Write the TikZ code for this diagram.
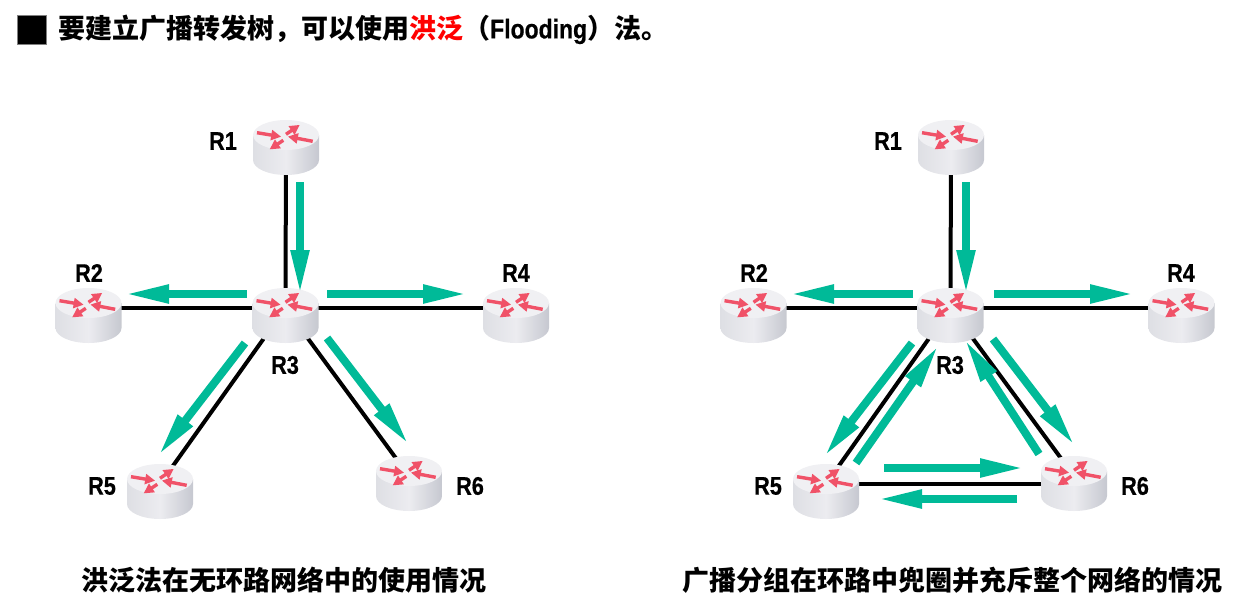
\documentclass[tikz,border=0pt]{standalone}
\usepackage{fontspec}
\setmainfont{Liberation Sans}
\newfontfamily\cjk{Noto Sans CJK SC}
\newfontfamily\narrowfont[FakeStretch=0.85, BoldFeatures={FakeBold=0.6}]{Liberation Sans}
\usetikzlibrary{arrows.meta}
\definecolor{flowgreen}{RGB}{0,186,152}
\definecolor{routerred}{RGB}{240,82,104}
\definecolor{bodylight}{RGB}{236,236,240}
\definecolor{bodyside}{RGB}{222,223,228}
\definecolor{bodydark}{RGB}{198,200,208}
\definecolor{topface}{RGB}{240,240,243}

\newcommand{\flowarrow}[3]{
	\coordinate (#1s) at #2;
	\coordinate (#1e) at #3;
	\draw[flowline] (#1s) -- (#1e);
}

\tikzset{
	routernode/.style={inner sep=0pt, minimum size=0pt},
	link/.style={line width=4pt, black},
	flowline/.style={line width=8pt, flowgreen, shorten >=-5pt, -{Triangle[length=45pt, width=17pt]}},
	routerarrow/.style={line width=3.4pt, routerred, shorten >=-2.5pt, -{Triangle[length=10pt, width=10pt]}},
	routerlabel/.style={font=\narrowfont\bfseries\fontsize{25.5}{30}\selectfont, inner sep=0pt},
	caption/.style={font=\cjk\bfseries\fontsize{27}{32}\selectfont, inner sep=0pt},
	router/.pic={
		% body, then the top face
		\shade[left color=bodyside, right color=bodydark, middle color=bodylight, shift={(0,-5)}]
		(-33,0) -- (-33,25) .. controls (-33,33.3) and (-18.2,40) .. (0,40)
		.. controls (18.2,40) and (33,33.3) .. (33,25) -- (33,0) -- cycle;
		\fill[topface, shift={(0,-5)}] (0,0) ellipse [x radius=33, y radius=15];
		\draw[routerarrow] (-29,-7.3) -- (-7.3,-3.7);
		\draw[routerarrow] (0,-5.7) -- (11.7,-13.7);
		\draw[routerarrow] (26.7,1.3) -- (4.3,-3);
		\draw[routerarrow] (-2.7,0.3) -- (-14.3,8);
	}
}

\begin{document}
\begin{tikzpicture}[x=1pt, y=-1pt]
	\useasboundingbox (0,0) rectangle (1248,611);

	% heading
	\node[draw=gray, fill=black, line width=0.8pt, minimum size=29pt, inner sep=0pt] (mark) at (31.5,29.5) {};
	\node[caption, anchor=west] (title) at (58,29.5) {要建立广播转发树，可以使用\textcolor{red}{洪泛}（{\narrowfont\mdseries\bfseries\fontsize{27}{32}\selectfont Flooding}）法。};

	% left network
	\node[routernode] (l1) at (286,140) {};
	\node[routernode] (l2) at (88.5,308) {};
	\node[routernode] (l3) at (285.5,308) {};
	\node[routernode] (l4) at (516,308) {};
	\node[routernode] (l5) at (160,484) {};
	\node[routernode] (l6) at (409,476) {};

	\draw[link] (l1) -- (l3);
	\draw[link] (l2) -- (l3);
	\draw[link] (l3) -- (l4);
	\draw[link] (l3) -- (l5);
	\draw[link] (l3) -- (l6);

	\pic at (l1) {router};
	\pic at (l2) {router};
	\pic at (l3) {router};
	\pic at (l4) {router};
	\pic at (l5) {router};
	\pic at (l6) {router};

	\flowarrow{la}{(300,182)}{(300,290)}
	\flowarrow{lb}{(247,294)}{(129,294)}
	\flowarrow{lc}{(327,294)}{(463,294)}
	\flowarrow{ld}{(245,343)}{(161,452)}
	\flowarrow{le}{(327,338)}{(406,441)}

	\node[routerlabel] (l1text) at (223,141) {R1};
	\node[routerlabel] (l2text) at (89,273) {R2};
	\node[routerlabel] (l3text) at (285,365) {R3};
	\node[routerlabel] (l4text) at (516,273) {R4};
	\node[routerlabel] (l5text) at (102,486) {R5};
	\node[routerlabel] (l6text) at (470,486) {R6};

	\node[caption] (lcaption) at (284,580) {洪泛法在无环路网络中的使用情况};

	% right network
	\node[routernode] (r1) at (951,140) {};
	\node[routernode] (r2) at (753.5,308) {};
	\node[routernode] (r3) at (950.5,308) {};
	\node[routernode] (r4) at (1181.5,308) {};
	\node[routernode] (r5) at (826,484) {};
	\node[routernode] (r6) at (1074,476) {};

	\draw[link] (r1) -- (r3);
	\draw[link] (r2) -- (r3);
	\draw[link] (r3) -- (r4);
	\draw[link] (r3) -- (r5);
	\draw[link] (r3) -- (r6);
	\draw[link] (r5) -- (r5 -| r6);

	\pic at (r1) {router};
	\pic at (r2) {router};
	\pic at (r3) {router};
	\pic at (r4) {router};
	\pic at (r5) {router};
	\pic at (r6) {router};

	\flowarrow{ra}{(966,182)}{(966,290)}
	\flowarrow{rb}{(913,294)}{(794,294)}
	\flowarrow{rc}{(994,294)}{(1130,294)}
	\flowarrow{rd}{(912,343)}{(827,453)}
	\flowarrow{re}{(856,463)}{(936,349)}
	\flowarrow{rf}{(993,339)}{(1072,442)}
	\flowarrow{rg}{(1039,454)}{(967,343)}
	\flowarrow{rh}{(884,468)}{(1020,468)}
	\flowarrow{ri}{(1017,499)}{(882,499)}

	\node[routerlabel] (r1text) at (888,141) {R1};
	\node[routerlabel] (r2text) at (754,273) {R2};
	\node[routerlabel] (r3text) at (950,365) {R3};
	\node[routerlabel] (r4text) at (1181,273) {R4};
	\node[routerlabel] (r5text) at (768,486) {R5};
	\node[routerlabel] (r6text) at (1135,486) {R6};

	\node[caption] (rcaption) at (952,580) {广播分组在环路中兜圈并充斥整个网络的情况};
\end{tikzpicture}
\end{document}
